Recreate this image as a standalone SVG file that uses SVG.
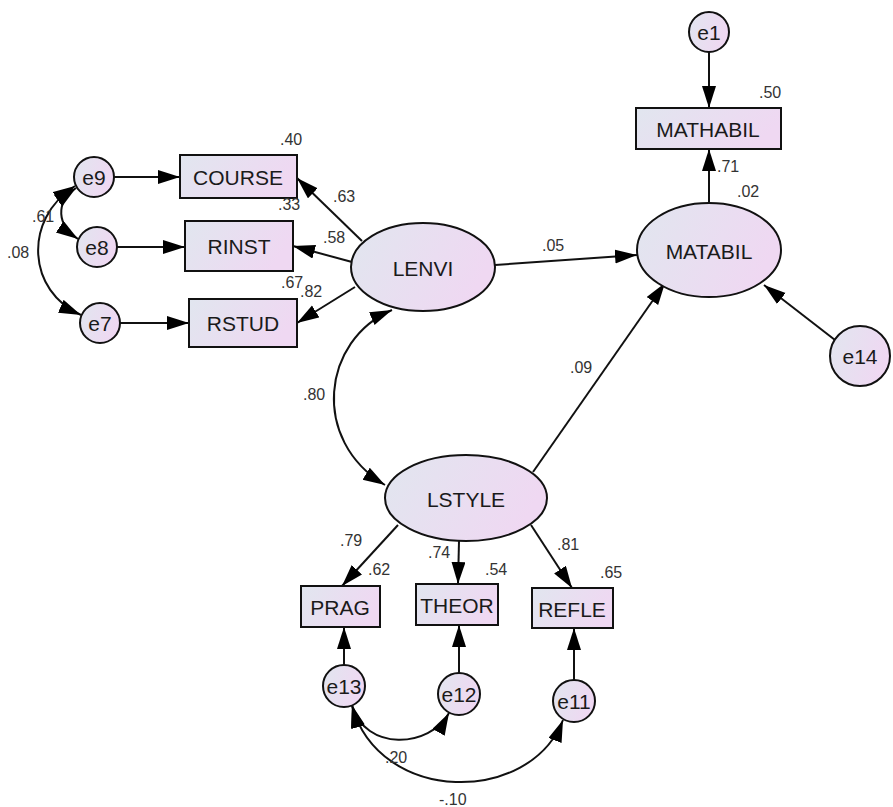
<svg xmlns="http://www.w3.org/2000/svg" width="893" height="807" viewBox="0 0 893 807">
<defs>
<linearGradient id="g" x1="0" y1="0" x2="1" y2="0.3">
<stop offset="0" stop-color="#e1e6ef"/>
<stop offset="1" stop-color="#efd8f2"/>
</linearGradient>
<marker id="ah" markerUnits="userSpaceOnUse" markerWidth="24" markerHeight="16" refX="22" refY="7" orient="auto-start-reverse">
<path d="M0,0 L22,7 L0,14 z" fill="#000"/>
</marker>
<style>
.n{fill:url(#g);stroke:#111;stroke-width:2}
.t{font-family:"Liberation Sans",Arial,sans-serif;font-size:21px;fill:#1a1a1a;text-anchor:middle;dominant-baseline:central}
.v{font-family:"Liberation Sans",Arial,sans-serif;font-size:16px;fill:#333}
.c{fill:none;stroke:#111;stroke-width:2}
.a{marker-end:url(#ah)}
.b{marker-start:url(#ah);marker-end:url(#ah)}
</style>
</defs>
<rect width="893" height="807" fill="#fff"/>
<g id="connectors">
<line class="c a" x1="709" y1="52" x2="709" y2="108"/>
<line class="c a" x1="709" y1="203" x2="709" y2="149"/>
<line class="c a" x1="835" y1="340" x2="764" y2="285"/>
<line class="c a" x1="495" y1="265" x2="637" y2="255"/>
<line class="c a" x1="533" y1="472" x2="665" y2="283"/>
<line class="c a" x1="362" y1="241" x2="297" y2="178"/>
<line class="c a" x1="352" y1="262" x2="293" y2="246"/>
<line class="c a" x1="355" y1="287" x2="297" y2="323"/>
<line class="c a" x1="113" y1="177" x2="180" y2="177"/>
<line class="c a" x1="116" y1="247" x2="185" y2="247"/>
<line class="c a" x1="119" y1="323" x2="189" y2="323"/>
<path class="c b" d="M76,188 C55,203 57,225 78,239"/>
<path class="c b" d="M75,186 C22,220 28,292 81,315"/>
<path class="c b" d="M392,310 C322,340 310,440 385,485"/>
<line class="c a" x1="398" y1="525" x2="342" y2="586"/>
<line class="c a" x1="459" y1="541" x2="458" y2="584"/>
<line class="c a" x1="531" y1="525" x2="572" y2="588"/>
<line class="c a" x1="344" y1="665" x2="344" y2="627"/>
<line class="c a" x1="459" y1="673" x2="459" y2="625"/>
<line class="c a" x1="574" y1="680" x2="574" y2="628"/>
<path class="c b" d="M352,705 C365,752 430,748 449,713"/>
<path class="c b" d="M352,706 C380,805 530,805 563,720"/>
</g>
<g id="e1"><circle class="n" cx="709" cy="32" r="20"/><text class="t" x="709" y="32">e1</text></g>
<g id="MATHABIL"><rect class="n" x="636" y="108" width="145" height="41"/><text class="t" x="708" y="129">MATHABIL</text></g>
<g id="MATABIL"><ellipse class="n" cx="709" cy="250" rx="72" ry="47"/><text class="t" x="709" y="251">MATABIL</text></g>
<g id="e14"><circle class="n" cx="860" cy="356" r="30"/><text class="t" x="860" y="356">e14</text></g>
<g id="e9"><circle class="n" cx="94" cy="177" r="20"/><text class="t" x="94" y="177">e9</text></g>
<g id="e8"><circle class="n" cx="97" cy="247" r="20"/><text class="t" x="97" y="247">e8</text></g>
<g id="e7"><circle class="n" cx="100" cy="323" r="20"/><text class="t" x="100" y="323">e7</text></g>
<g id="COURSE"><rect class="n" x="180" y="155" width="117" height="43"/><text class="t" x="238" y="177">COURSE</text></g>
<g id="RINST"><rect class="n" x="185" y="221" width="108" height="50"/><text class="t" x="239" y="246">RINST</text></g>
<g id="RSTUD"><rect class="n" x="189" y="299" width="108" height="48"/><text class="t" x="243" y="323">RSTUD</text></g>
<g id="LENVI"><ellipse class="n" cx="423" cy="267" rx="72" ry="44"/><text class="t" x="423" y="268">LENVI</text></g>
<g id="LSTYLE"><ellipse class="n" cx="466" cy="498" rx="81" ry="43"/><text class="t" x="466" y="499">LSTYLE</text></g>
<g id="PRAG"><rect class="n" x="301" y="586" width="79" height="41"/><text class="t" x="340" y="607">PRAG</text></g>
<g id="THEOR"><rect class="n" x="416" y="584" width="82" height="41"/><text class="t" x="457" y="605">THEOR</text></g>
<g id="REFLE"><rect class="n" x="532" y="588" width="81" height="40"/><text class="t" x="572" y="609">REFLE</text></g>
<g id="e13"><circle class="n" cx="344" cy="686" r="21"/><text class="t" x="344" y="686">e13</text></g>
<g id="e12"><circle class="n" cx="459" cy="694" r="21"/><text class="t" x="459" y="694">e12</text></g>
<g id="e11"><circle class="n" cx="574" cy="701" r="21"/><text class="t" x="574" y="701">e11</text></g>
<g id="labels">
<text class="v" x="759" y="98">.50</text>
<text class="v" x="717" y="172">.71</text>
<text class="v" x="737" y="197">.02</text>
<text class="v" x="280" y="145">.40</text>
<text class="v" x="333" y="202">.63</text>
<text class="v" x="278" y="210">.33</text>
<text class="v" x="323" y="243">.58</text>
<text class="v" x="281" y="288">.67</text>
<text class="v" x="300" y="297">.82</text>
<text class="v" x="32" y="222">.61</text>
<text class="v" x="7" y="258">.08</text>
<text class="v" x="542" y="251">.05</text>
<text class="v" x="303" y="400">.80</text>
<text class="v" x="570" y="373">.09</text>
<text class="v" x="340" y="546">.79</text>
<text class="v" x="368" y="575">.62</text>
<text class="v" x="428" y="558">.74</text>
<text class="v" x="485" y="575">.54</text>
<text class="v" x="557" y="550">.81</text>
<text class="v" x="600" y="578">.65</text>
<text class="v" x="385" y="763">.20</text>
<text class="v" x="439" y="805">-.10</text>
</g>
</svg>
